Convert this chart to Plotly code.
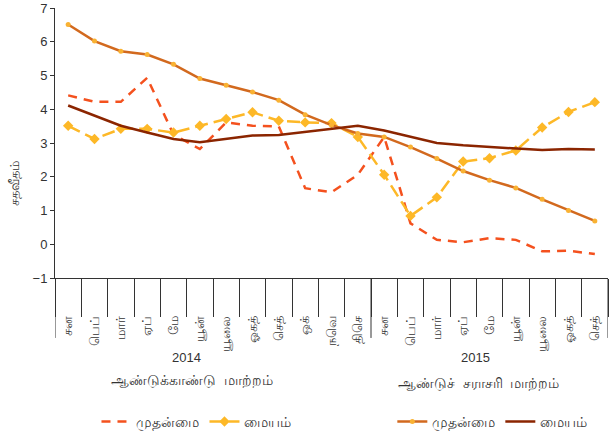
import plotly.graph_objects as go

months_2014 = ["சன", "பெப்", "மார்", "ஏப்", "மே", "யூன்", "யூலை", "ஓகத்", "செத்", "ஒக்", "நவெ", "திசெ"]
months_2015 = ["சன", "பெப்", "மார்", "ஏப்", "மே", "யூன்", "யூலை", "ஓகத்", "செத்"]
month_labels = months_2014 + months_2015
years = ["2014", "2015"]
group_titles = ["ஆண்டுக்காண்டு  மாற்றம்", "ஆண்டுச்  சராசரி  மாற்றம்"]

headline_yoy = [4.41, 4.22, 4.22, 4.93, 3.25, 2.82, 3.61, 3.51, 3.49, 1.66, 1.54, 2.06,
                3.18, 0.62, 0.13, 0.06, 0.18, 0.13, -0.21, -0.19, -0.29]
core_yoy = [3.51, 3.12, 3.42, 3.42, 3.31, 3.51, 3.71, 3.91, 3.66, 3.61, 3.59, 3.18,
            2.06, 0.84, 1.39, 2.45, 2.55, 2.78, 3.46, 3.92, 4.21]
headline_avg = [6.51, 6.02, 5.72, 5.62, 5.33, 4.91, 4.71, 4.51, 4.27, 3.84, 3.53, 3.28,
                3.18, 2.88, 2.54, 2.17, 1.90, 1.67, 1.33, 1.00, 0.69]
core_avg = [4.11, 3.81, 3.51, 3.31, 3.12, 3.02, 3.12, 3.22, 3.24, 3.33, 3.44, 3.51,
            3.37, 3.18, 3.00, 2.93, 2.88, 2.82, 2.79, 2.82, 2.81]

series_names = ["முதன்மை", "மையம்", "முதன்மை", "மையம்"]
y_title = "சதவீதம்"

n = len(month_labels)
xs = list(range(n))
boundaries = [i - 0.5 for i in range(n + 1)]
group_edges = [-0.5, len(months_2014) - 0.5, n - 0.5]

FONT = "Liberation Sans, Arial, sans-serif"
TXT = "#333333"

fig = go.Figure()

fig.add_trace(go.Scatter(
    x=xs, y=headline_yoy, name=series_names[0], mode="lines",
    line=dict(color="#F4511E", width=2.5, dash="9px,7px"),
    legend="legend",
))
fig.add_trace(go.Scatter(
    x=xs, y=core_yoy, name=series_names[1], mode="lines+markers",
    line=dict(color="#FDB827", width=2.5, dash="13px,6px"),
    marker=dict(symbol="diamond", size=8, color="#FDB827"),
    legend="legend",
))
fig.add_trace(go.Scatter(
    x=xs, y=headline_avg, name=series_names[2], mode="lines+markers",
    line=dict(color="#D2691E", width=2.5),
    marker=dict(symbol="circle", size=5, color="#F9B233"),
    legend="legend2",
))
fig.add_trace(go.Scatter(
    x=xs, y=core_avg, name=series_names[3], mode="lines",
    line=dict(color="#8B2500", width=2.5),
    legend="legend2",
))

# invisible trace to drive the month-label axis
fig.add_trace(go.Scatter(x=xs, y=[None] * n, xaxis="x2", showlegend=False, hoverinfo="skip"))

for xe in group_edges:
    fig.add_shape(type="line", xref="x", yref="paper", x0=xe, x1=xe, y0=0, y1=-0.222,
                  line=dict(color=TXT, width=1))

year_x = [4.5, 15.45]
for yr, gx in zip(years, year_x):
    fig.add_annotation(x=gx, y=-0.296, xref="x", yref="paper", text=yr, showarrow=False,
                       font=dict(family=FONT, size=13, color=TXT), xanchor="center", yanchor="middle")
fig.add_annotation(x=4.7, y=-0.381, xref="x", yref="paper", text=group_titles[0], showarrow=False,
                   font=dict(family=FONT, size=13.5, color=TXT), xanchor="center", yanchor="middle")
fig.add_annotation(x=15.6, y=-0.389, xref="x", yref="paper", text=group_titles[1], showarrow=False,
                   font=dict(family=FONT, size=13.5, color=TXT), xanchor="center", yanchor="middle")

fig.add_annotation(x=-0.072, y=1.79, xref="paper", yref="y", text=y_title, showarrow=False,
                   textangle=-90, xanchor="center", yanchor="middle",
                   font=dict(family=FONT, size=13, color=TXT))

fig.update_layout(
    width=609, height=439,
    margin=dict(l=55, r=1, t=8, b=161),
    paper_bgcolor="white", plot_bgcolor="white",
    font=dict(family=FONT, size=12, color=TXT),
    xaxis=dict(range=[-0.5, n - 0.5], tickmode="array", tickvals=boundaries, ticks="outside",
               ticklen=38, tickcolor=TXT, tickwidth=1, showticklabels=False,
               showline=True, linecolor=TXT, linewidth=1, showgrid=False, zeroline=False),
    xaxis2=dict(range=[-0.5, n - 0.5], overlaying="x", anchor="y", side="bottom",
                tickmode="array", tickvals=xs, ticktext=month_labels, tickangle=-90,
                ticks="outside", ticklen=32, tickcolor="rgba(0,0,0,0)",
                showline=False, showgrid=False, zeroline=False,
                tickfont=dict(family=FONT, size=13, color=TXT)),
    yaxis=dict(range=[-1, 7], dtick=1, tick0=0, ticks="outside", ticklen=4, tickcolor=TXT,
               showline=True, linecolor=TXT, linewidth=1, showgrid=False, zeroline=False,
               tickfont=dict(family=FONT, size=13, color=TXT)),
    legend=dict(orientation="h", x=0.075, y=-0.533, xanchor="left", yanchor="middle",
                font=dict(family=FONT, size=14, color=TXT), bgcolor="rgba(0,0,0,0)",
                itemwidth=30),
    legend2=dict(orientation="h", x=0.61, y=-0.533, xanchor="left", yanchor="middle",
                 font=dict(family=FONT, size=14, color=TXT), bgcolor="rgba(0,0,0,0)",
                 itemwidth=30),
    showlegend=True,
)

fig.write_html("out.html", config={"displayModeBar": False},
               post_script="document.body.style.margin='0';document.body.style.padding='0';")
